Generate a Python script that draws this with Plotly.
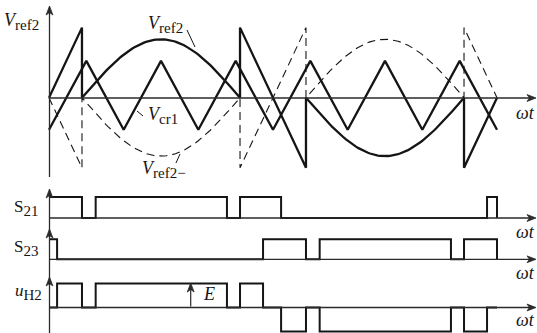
import numpy as np
import plotly.graph_objects as go

# ---------------- data (angles in degrees of wt, one fundamental period) ----------------
# breakpoints of the reference: sawtooth / +half sine / sawtooth / -half sine / sawtooth
ref_breaks = [0.0, 26.5, 153.5, 206.5, 333.5, 360.0]
sine_amp = 1.0          # peak of the sinusoidal part
saw_peak = 1.2          # peak of the linear (sawtooth) transition parts

# triangular carrier vertices
carrier_theta = [0, 30, 60, 90, 120, 150, 180, 210, 240, 270, 300, 330, 360]
carrier_vals = [-0.55, 0.63, -0.55, 0.63, -0.55, 0.63, -0.55, 0.63, -0.55, 0.63, -0.55, 0.63, -0.55]

# switching signals: edge angles and the level held after each edge
s21_edges = [0.0, 26.5, 37.5, 143.0, 153.5, 186.5, 352.0, 360.0]
s21_levels = [1, 0, 1, 0, 1, 0, 1, 0]
s23_edges = [0.0, 6.5, 172.0, 206.5, 217.5, 323.0, 333.5, 360.0]
s23_levels = [1, 0, 1, 0, 1, 0, 1, 0]

# ---------------- geometry helpers (pixel layout of the 537x333 picture) ----------------
W, H = 537, 333
PX0, PX360 = 49.0, 497.0                 # pixel x of 0 deg and 360 deg
KX = (PX360 - PX0) / 360.0
x_range = [-PX0 / KX, (W - PX0) / KX]

panels = {  # name: (pixel y of zero, pixels per unit, pixel top, pixel bottom)
    "y": (97.7, 58.4, 0, 180),
    "y2": (218.0, 21.0, 181, 226),
    "y3": (259.3, 20.0, 226, 268),
    "y4": (307.5, 24.0, 268, 333),
}


def axis_cfg(name):
    z, u, t, b = panels[name]
    return dict(domain=[1 - b / H, 1 - t / H], range=[(z - b) / u, (z - t) / u],
                visible=False, showgrid=False, zeroline=False, fixedrange=True)


def px(x):
    return x / W


def py(y):
    return 1 - y / H


INK = "#151515"
AX = "#2a2a2a"


def step_xy(edges, levels):
    xs, ys = [], []
    for i, e in enumerate(edges):
        prev = levels[i - 1] if i > 0 else levels[0]
        xs += [e, e]
        ys += [prev, levels[i]]
    return xs, ys


def level_at(edges, levels, t):
    lv = levels[0]
    for e, l in zip(edges, levels):
        if t >= e:
            lv = l
    return lv


# reference waveform V_ref2
def vref_curve():
    b = ref_breaks
    xs, ys = [], []
    xs += [b[0], b[1], b[1]]; ys += [0, saw_peak, 0]
    t = np.linspace(b[1], b[2], 80)
    xs += list(t); ys += list(sine_amp * np.sin(np.pi * (t - b[1]) / (b[2] - b[1])))
    xs += [b[2], b[2], b[3], b[3]]; ys += [saw_peak, saw_peak, -saw_peak, 0]
    t = np.linspace(b[3], b[4], 80)
    xs += list(t); ys += list(-sine_amp * np.sin(np.pi * (t - b[3]) / (b[4] - b[3])))
    xs += [b[4], b[4], b[5]]; ys += [-saw_peak, -saw_peak, 0]
    return np.array(xs), np.array(ys)


vx, vy = vref_curve()

fig = go.Figure()
fig.add_trace(go.Scatter(x=vx, y=-vy, mode="lines", yaxis="y",
                         line=dict(color=INK, width=1.1, dash="8px,5px")))
fig.add_trace(go.Scatter(x=carrier_theta, y=carrier_vals, mode="lines", yaxis="y",
                         line=dict(color=INK, width=2.3)))
fig.add_trace(go.Scatter(x=vx, y=vy, mode="lines", yaxis="y",
                         line=dict(color=INK, width=2.3)))

sx, sy = step_xy(s21_edges, s21_levels)
fig.add_trace(go.Scatter(x=sx, y=sy, mode="lines", yaxis="y2", line=dict(color=INK, width=2)))
sx, sy = step_xy(s23_edges, s23_levels)
fig.add_trace(go.Scatter(x=sx, y=sy, mode="lines", yaxis="y3", line=dict(color=INK, width=2)))

# u_H2 = S21 - S23
u_edges = sorted(set(s21_edges) | set(s23_edges))
u_levels = [level_at(s21_edges, s21_levels, e) - level_at(s23_edges, s23_levels, e) for e in u_edges]
sx, sy = step_xy(u_edges, u_levels)
fig.add_trace(go.Scatter(x=sx, y=sy, mode="lines", yaxis="y4", line=dict(color=INK, width=2)))

shapes = []


def seg(x0, y0, x1, y1, w=1.3, color=AX):
    shapes.append(dict(type="line", xref="paper", yref="paper", x0=px(x0), y0=py(y0),
                       x1=px(x1), y1=py(y1), line=dict(color=color, width=w)))


def head(x, y, direction, L=9.0, Wd=3.4, notch=2.5):
    # filled arrowhead with tip at pixel (x, y)
    if direction == "right":
        pts = [(x, y), (x - L, y - Wd), (x - L + notch, y), (x - L, y + Wd)]
    else:  # up
        pts = [(x, y), (x - Wd, y + L), (x, y + L - notch), (x + Wd, y + L)]
    path = "M " + " L ".join("%.5f,%.5f" % (px(a), py(b)) for a, b in pts) + " Z"
    shapes.append(dict(type="path", xref="paper", yref="paper", path=path,
                       fillcolor=AX, line=dict(color=AX, width=0.8)))


def arrow(x0, y0, x1, y1, w=1.3):
    seg(x0, y0, x1 - (3 if x1 > x0 else 0), y1 + (3 if y1 < y0 else 0), w)
    head(x1, y1, "right" if x1 > x0 else "up")


# axes
arrow(49.5, 98, 536, 98)
arrow(49.5, 177, 49.5, 6)
for yz in (218, 259.3, 307.5):
    arrow(49.5, yz, 536, yz)
seg(49.5, 333, 49.5, 192)
head(49.5, 277, "up")
head(49.5, 229, "up")
head(49.5, 189, "up")
# E arrow
arrow(190.7, 306.5, 190.7, 283, w=1.2)

# leader lines of the curve labels
for (x0, y0, x1, y1) in [(187, 30, 195, 47), (137, 111, 143, 116), (180, 154, 176, 163)]:
    seg(x0, y0, x1, y1, w=1, color=INK)

FONT = "Liberation Serif, Times New Roman, serif"
ann = []


def label(text, x, y, size=17, xanchor="left"):
    ann.append(dict(xref="paper", yref="paper", x=px(x), y=py(y), text=text, showarrow=False,
                    xanchor=xanchor, yanchor="middle", font=dict(family=FONT, size=size, color=INK)))


def sub(s, size=15):
    return "<sub><span style='font-size:%dpx'>%s</span></sub>" % (size, s)


label("<i>V</i>" + sub("ref2"), 2, 21, 18)
label("<i>V</i>" + sub("ref2"), 146, 24, 18)
label("<i>V</i>" + sub("cr1"), 146, 116, 18)
label("<i>V</i>" + sub("ref2−"), 140, 169, 18)
label("S" + sub("21"), 12, 208, 17)
label("S" + sub("23"), 12, 248, 17)
label("<i>u</i>" + sub("H2"), 13, 292, 17)
label("<i>E</i>", 201, 294, 18)
for yy in (113, 232, 273, 320):
    label("<i>ωt</i>", 537, yy, 18, xanchor="right")

fig.update_layout(
    width=W, height=H, margin=dict(l=0, r=0, t=0, b=0),
    paper_bgcolor="white", plot_bgcolor="white", showlegend=False, hovermode=False,
    xaxis=dict(range=x_range, visible=False, showgrid=False, zeroline=False, fixedrange=True),
    yaxis=axis_cfg("y"),
    yaxis2=axis_cfg("y2"),
    yaxis3=axis_cfg("y3"),
    yaxis4=axis_cfg("y4"),
    annotations=ann, shapes=shapes,
)

fig.write_html("out.html", config={"displayModeBar": False, "staticPlot": True},
               post_script="document.body.style.margin='0px';document.body.style.overflow='hidden';")
